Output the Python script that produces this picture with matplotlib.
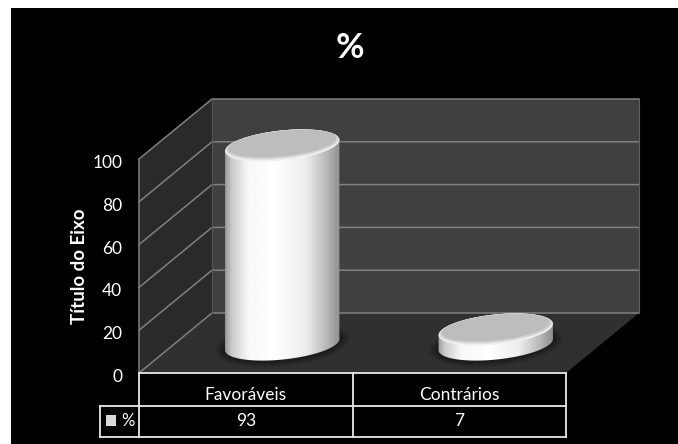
import matplotlib
matplotlib.use('Agg')
import matplotlib.pyplot as plt
import numpy as np
from matplotlib.patches import Polygon, Rectangle
from matplotlib.transforms import ScaledTranslation

categories = ['Favoráveis', 'Contrários']
values = [93, 7]
series_name = '%'
y_ticks = [0, 20, 40, 60, 80, 100]

plt.rcParams['font.family'] = ['Lato', 'DejaVu Sans']

W, H = 678, 444
L, R, B, T = 139, 566, 373, 159  # front plane of the 3d box, in pixels
DX, DY = 73, 60                  # depth of the box, in pixels

fig = plt.figure(figsize=(W / 100, H / 100), dpi=100, facecolor='white')
fig.patches.append(Rectangle((11 / W, 0), 1, 1 - 8 / H, transform=fig.transFigure,
                             facecolor='black', edgecolor='none', zorder=-1))

ax = fig.add_axes([L / W, 1 - B / H, (R - L) / W, (B - T) / H])
ax.set_xlim(0, 2)
ax.set_ylim(0, 100)
ax.patch.set_visible(False)
for s in ax.spines.values():
    s.set_visible(False)

ux = 2 / (R - L)     # data units per pixel
uy = 100 / (B - T)
dx, dy = DX * ux, DY * uy

# walls and floor
ax.add_patch(Polygon([(dx, dy), (2 + dx, dy), (2 + dx, 100 + dy), (dx, 100 + dy)],
                     facecolor='#404040', edgecolor='none', clip_on=False, zorder=1))
ax.add_patch(Polygon([(0, 0), (dx, dy), (dx, 100 + dy), (0, 100)],
                     facecolor='#2a2a2a', edgecolor='none', clip_on=False, zorder=1))
ax.add_patch(Polygon([(0, 0), (2, 0), (2 + dx, dy), (dx, dy)],
                     facecolor='#303030', edgecolor='none', clip_on=False, zorder=1))
for t in y_ticks:
    ax.plot([0, dx, 2 + dx], [t, t + dy, t + dy], color='#808080', lw=1.1, clip_on=False, zorder=2)
ax.plot([0, 0], [0, 100], color='#808080', lw=1.1, clip_on=False, zorder=2)
ax.plot([dx, dx], [dy, 100 + dy], color='#555555', lw=0.8, clip_on=False, zorder=2)
ax.plot([2 + dx, 2 + dx], [dy, 100 + dy], color='#606060', lw=0.8, clip_on=False, zorder=2)

A, C = 57.5, 15  # cylinder ellipse half axes, pixels
TILT = np.radians(6)


def ellipse(xc, yc, a=A, c=C, start=0, stop=2 * np.pi):
    t = np.linspace(start, stop, 90)
    ex = a * np.cos(t) * np.cos(TILT) - c * np.sin(t) * np.sin(TILT)
    ey = a * np.cos(t) * np.sin(TILT) + c * np.sin(t) * np.cos(TILT)
    return np.column_stack([xc + ex * ux, yc + ey * uy])


grad_pos = [0, 0.06, 0.2, 0.42, 0.7, 0.88, 1]
grad_val = [0.60, 0.80, 0.97, 1.0, 0.93, 0.72, 0.55]
xx = np.linspace(0, 1, 256)
grad = np.interp(xx, grad_pos, grad_val)[None, :]

for i, v in enumerate(values):
    xc = i + 0.5 + dx / 2
    y0 = dy / 2 - 1.5 * uy
    # soft shadow on the floor
    for grow, al in [(10, 0.10), (7, 0.14), (4, 0.18)]:
        ax.add_patch(Polygon(ellipse(xc, y0, A + grow, C + grow * 0.7), facecolor='black', alpha=al,
                             edgecolor='none', clip_on=False, zorder=3))
    # side of the cylinder
    low = ellipse(xc, y0, start=np.pi, stop=2 * np.pi)
    up = ellipse(xc, y0 + v, start=0, stop=np.pi)
    side = Polygon(np.vstack([low, up]), facecolor='none', edgecolor='none', clip_on=False,
                   transform=ax.transData)
    ax.add_patch(side)
    im = ax.imshow(grad, cmap='gray', vmin=0, vmax=1, aspect='auto', zorder=4,
                   extent=[xc - A * ux, xc + A * ux, y0 - 30 * uy, y0 + v + 30 * uy], interpolation='bilinear')
    im.set_clip_box(fig.bbox)
    im.set_clip_path(side)
    # top of the cylinder, lighter rim towards the front
    ax.add_patch(Polygon(ellipse(xc, y0 + v), facecolor='#f0f0f0', edgecolor='none', clip_on=False, zorder=5))
    ax.add_patch(Polygon(ellipse(xc, y0 + v + 1 * uy, A - 1, C - 1), facecolor='#d6d6d6', edgecolor='none',
                         clip_on=False, zorder=6))
    ax.add_patch(Polygon(ellipse(xc, y0 + v + 1.8 * uy, A - 3, C - 2.2), facecolor='#bdbdbd', edgecolor='none',
                         clip_on=False, zorder=6))
ax.set_xlim(0, 2)
ax.set_ylim(0, 100)

# y axis
ax.set_yticks(y_ticks)
ax.tick_params(axis='y', length=0, labelcolor='white', labelsize=12.5, pad=12)
ax.set_xticks([])
shift = ScaledTranslation(0, -2.5 / 100, fig.dpi_scale_trans)
for lab in ax.get_yticklabels():
    lab.set_transform(lab.get_transform() + shift)
ax.set_ylabel('Título do Eixo', color='white', fontsize=13.5, fontweight='bold', labelpad=3)
fig.text(350 / W, 1 - 48 / H, series_name, color='white', fontsize=25, fontweight='bold', ha='center', va='center')

# data table under the plot
y1, y2, y3 = 0, -(405.5 - B) * uy, -(436.5 - B) * uy
lx = -(139 - 100) * ux
tc = dict(color='#e8e8e8', lw=1.3, clip_on=False, zorder=7, solid_capstyle='projecting')
ax.plot([0, 2], [y1, y1], **tc)
ax.plot([lx, 2], [y2, y2], **tc)
ax.plot([lx, 2], [y3, y3], **tc)
ax.plot([lx, lx], [y2, y3], **tc)
for xv in [0, 1, 2]:
    ax.plot([xv, xv], [y1, y3], **tc)
for i, (c, v) in enumerate(zip(categories, values)):
    ax.text(i + 0.5, -(395 - B) * uy, c, color='white', fontsize=12.5, ha='center', va='center')
    ax.text(i + 0.5, -(421 - B) * uy, str(v), color='white', fontsize=12.5, ha='center', va='center')
ax.add_patch(Rectangle((lx + 6 * ux, -(426 - B) * uy), 10 * ux, 11 * uy, facecolor='#d9d9d9', edgecolor='none',
                       clip_on=False, zorder=7))
ax.text(lx + 21 * ux, -(421 - B) * uy, series_name, color='white', fontsize=12, ha='left', va='center')

fig.savefig('out.png', dpi=100)
